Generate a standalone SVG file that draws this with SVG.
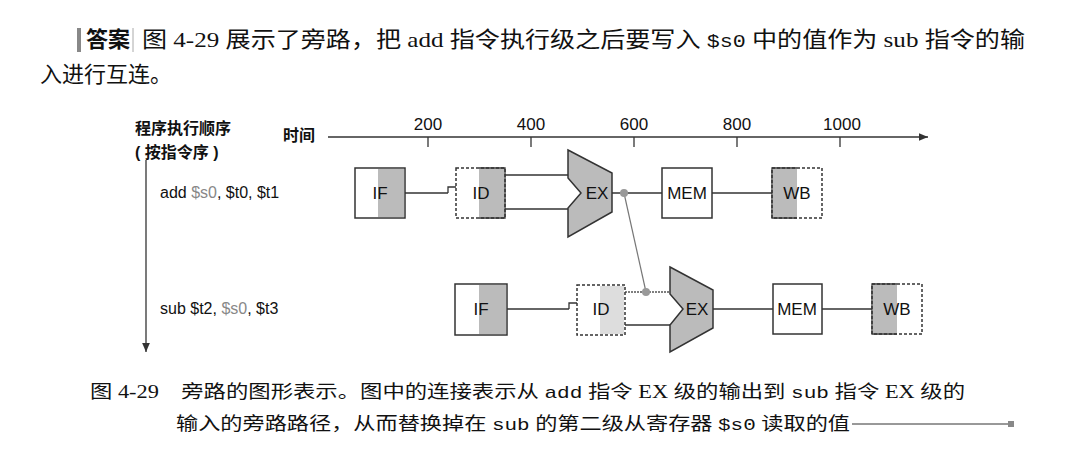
<svg xmlns="http://www.w3.org/2000/svg" width="1067" height="460" viewBox="0 0 1067 460">
<style>
.t{font-family:"Liberation Serif","Noto Sans CJK SC",serif;font-size:22px;fill:#111}
.s{font-family:"Liberation Sans","Noto Sans CJK SC",sans-serif;font-size:16px;fill:#111}
.c{font-family:"Liberation Serif","Noto Sans CJK SC",serif;font-size:18px;fill:#111}
.m{font-family:"Liberation Mono","Noto Sans CJK SC",monospace}
.b{fill:#fff;stroke:#333;stroke-width:1.5}
.d{fill:#fff;stroke:#333;stroke-width:1.5;stroke-dasharray:3 2}
.g{fill:#bbb}
.lg{fill:#ddd}
.w{stroke:#333;stroke-width:1.3;fill:none}
.ex{fill:#bbb;stroke:#333;stroke-width:1.5}
.lbl{font-family:"Liberation Sans",sans-serif;font-size:17px;fill:#111;text-anchor:middle}
</style>
<defs><marker id="ah" markerWidth="8" markerHeight="8" refX="7" refY="4" orient="auto"><path d="M0,1 L7,4 L0,7z" fill="#333"/></marker></defs>
<rect x="77" y="28" width="4" height="24" fill="#888"/>
<text class="t" x="86" y="47" font-weight="bold">答案</text>
<line x1="133" y1="28" x2="133" y2="52" stroke="#aaa"/>
<text class="t" x="142" y="47" textLength="883" lengthAdjust="spacingAndGlyphs">图 4-29 展示了旁路，把 add 指令执行级之后要写入 <tspan class="m" font-size="19">$s0</tspan> 中的值作为 sub 指令的输</text>
<text class="t" x="40" y="82">入进行互连。</text>
<text class="s" x="135" y="134" font-weight="bold">程序执行顺序</text>
<text class="s" x="135" y="158" font-weight="bold">( 按指令序 )</text>
<text class="s" x="283" y="141" font-weight="bold">时间</text>
<line x1="146" y1="160" x2="146" y2="352" stroke="#333" stroke-width="1.3" marker-end="url(#ah)"/>
<line x1="328" y1="137" x2="928" y2="137" stroke="#333" stroke-width="1.3" marker-end="url(#ah)"/>
<g stroke="#333" stroke-width="1.3"><line x1="428" y1="137" x2="428" y2="147"/><line x1="531" y1="137" x2="531" y2="147"/><line x1="634" y1="137" x2="634" y2="147"/><line x1="737" y1="137" x2="737" y2="147"/><line x1="840" y1="137" x2="840" y2="147"/></g>
<g class="lbl"><text x="428" y="130">200</text><text x="531" y="130">400</text><text x="634" y="130">600</text><text x="737" y="130">800</text><text x="842" y="130">1000</text></g>
<text class="s" x="160" y="198">add <tspan fill="#888">$s0</tspan>, $t0, $t1</text>
<text class="s" x="160" y="314">sub $t2, <tspan fill="#888">$s0</tspan>, $t3</text>
<g id="connectors">
<line class="w" x1="405" y1="193" x2="448" y2="193"/>
<path class="w" d="M456,187 H448 V193"/>
<line class="w" x1="505" y1="175" x2="568" y2="175"/>
<line class="w" x1="505" y1="209" x2="568" y2="209"/>
<line class="w" x1="612" y1="193" x2="662" y2="193"/>
<line class="w" x1="712" y1="193" x2="772" y2="193"/>
<line x1="624" y1="193" x2="646" y2="292" stroke="#777" stroke-width="1.2"/>
<line class="w" x1="507" y1="309" x2="569" y2="309"/>
<path class="w" d="M577,303 H569 V309"/>
<line x1="625" y1="292" x2="670" y2="292" stroke="#555" stroke-width="1.3" stroke-dasharray="2 1"/>
<line class="w" x1="625" y1="325" x2="670" y2="325"/>
<line class="w" x1="713" y1="309" x2="773" y2="309"/>
<line class="w" x1="822" y1="309" x2="872" y2="309"/>
<circle cx="624" cy="193" r="4" fill="#999"/>
<circle cx="646" cy="292" r="4" fill="#999"/>
</g>
<g id="if1"><rect class="b" x="355" y="168" width="50" height="50"/><rect class="g" x="378" y="169" width="26" height="48"/><text class="lbl" x="380" y="199">IF</text></g>
<g id="id1"><rect class="d" x="456" y="168" width="49" height="50"/><rect class="g" x="479" y="169" width="25" height="48"/><path class="w" d="M479,168 H505 V218 H479"/><text class="lbl" x="481" y="199">ID</text></g>
<g id="ex1"><path class="ex" d="M568,150 L612,173 L612,212 L568,237 L568,208 L581,193 L568,178 Z"/><text class="lbl" x="597" y="199">EX</text></g>
<g id="mem1"><rect class="b" x="662" y="168" width="50" height="50"/><text class="lbl" x="687" y="199">MEM</text></g>
<g id="wb1"><rect class="d" x="772" y="168" width="50" height="50"/><rect class="g" x="773" y="169" width="24" height="48"/><path class="w" d="M797,168 H772 V218 H797"/><text class="lbl" x="797" y="199">WB</text></g>
<g id="if2"><rect class="b" x="455" y="284" width="52" height="51"/><rect class="g" x="479" y="285" width="27" height="49"/><text class="lbl" x="481" y="315">IF</text></g>
<g id="id2"><rect class="d" x="577" y="285" width="48" height="50"/><rect class="lg" x="600" y="286" width="24" height="48"/><text class="lbl" x="601" y="315">ID</text></g>
<g id="ex2"><path class="ex" d="M670,267 L713,290 L713,328 L670,352 L670,325 L683,309 L670,294 Z"/><text class="lbl" x="697" y="315">EX</text></g>
<g id="mem2"><rect class="b" x="773" y="284" width="49" height="50"/><text class="lbl" x="797" y="315">MEM</text></g>
<g id="wb2"><rect class="d" x="872" y="284" width="50" height="50"/><rect class="g" x="873" y="285" width="24" height="48"/><path class="w" d="M897,284 H872 V334 H897"/><text class="lbl" x="897" y="315">WB</text></g>
<text class="c" x="90" y="398" textLength="875" lengthAdjust="spacingAndGlyphs">图 4-29　旁路的图形表示。图中的连接表示从 <tspan class="m" font-size="17">add</tspan> 指令 EX 级的输出到 <tspan class="m" font-size="17">sub</tspan> 指令 EX 级的</text>
<text class="c" x="176" y="430" textLength="674" lengthAdjust="spacingAndGlyphs">输入的旁路路径，从而替换掉在 <tspan class="m" font-size="17">sub</tspan> 的第二级从寄存器 <tspan class="m" font-size="17">$s0</tspan> 读取的值</text>
<line x1="852" y1="424" x2="1010" y2="424" stroke="#333" stroke-width="1"/>
<rect x="1008" y="421" width="6" height="6" fill="#888"/>
</svg>
